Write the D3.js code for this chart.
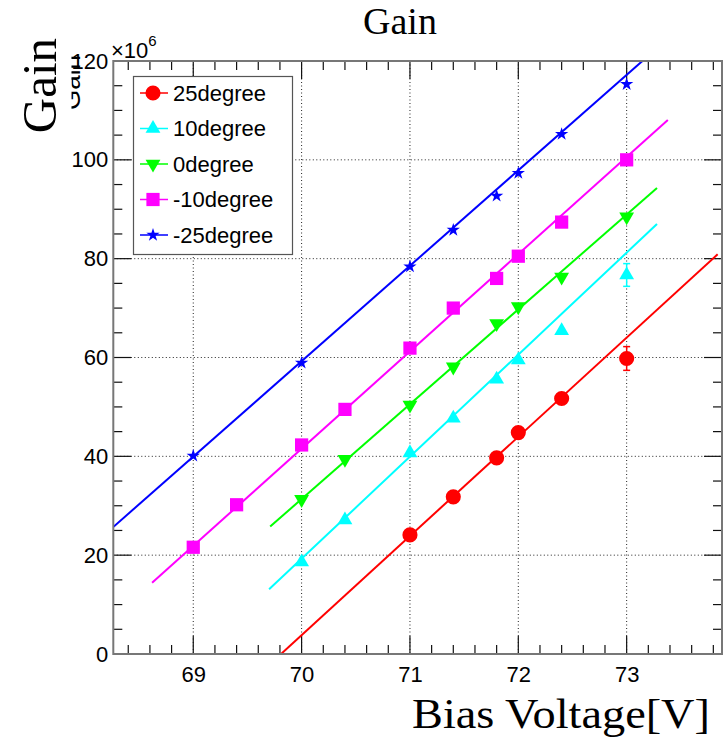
<!DOCTYPE html>
<html><head><meta charset="utf-8">
<script src="https://cdn.jsdelivr.net/npm/d3@7"></script>
<style>body{margin:0;background:#fff}</style>
</head><body>
<svg id="c" width="724" height="738"></svg>
<script>
// Gain (x10^6) versus bias voltage at five temperatures, with linear fits
const seriesNames = ["25degree", "10degree", "0degree", "-10degree", "-25degree"];
const seriesColors = ["#ff0000", "#00ffff", "#00ff00", "#ff00ff", "#0000ff"];
const seriesSymbols = ["circle", "triangle", "triangleDown", "square", "star"];

const volt25 = [71, 71.4, 71.8, 72, 72.4, 73];
const gain25 = [24.1, 31.8, 39.7, 44.8, 51.7, 59.8];
const err25 = [0, 0, 0, 0, 0, 2.4];

const volt10 = [70, 70.4, 71, 71.4, 71.8, 72, 72.4, 73];
const gain10 = [18.6, 27.1, 40.7, 47.7, 55.6, 59.5, 65.4, 76.7];
const err10 = [0, 0, 0, 0, 0, 0, 0, 2.3];

const volt0 = [70, 70.4, 71, 71.4, 71.8, 72, 72.4, 73];
const gain0 = [31.3, 39.4, 50.4, 58.1, 66.9, 70.3, 76.3, 88.5];
const err0 = [0, 0, 0, 0, 0, 0, 0, 0];

const voltM10 = [69, 69.4, 70, 70.4, 71, 71.4, 71.8, 72, 72.4, 73];
const gainM10 = [21.6, 30.2, 42.3, 49.5, 61.9, 70.0, 76.0, 80.5, 87.4, 100.0];
const errM10 = [0, 0, 0, 0, 0, 0, 0, 0, 0, 0];

const voltM25 = [69, 70, 71, 71.4, 71.8, 72, 72.4, 73];
const gainM25 = [40.1, 58.9, 78.4, 85.8, 92.7, 97.3, 105.2, 115.3];
const errM25 = [0, 0, 0, 0, 0, 0, 0, 0];

// linear fits: gain = slope * (V - zeroVolt), drawn over [fitFrom, fitTo]
const fitSlope = [20.07, 20.64, 19.19, 19.68, 19.31];
const fitZeroVolt = [69.81, 69.065, 68.366, 67.888, 66.931];
const fitFrom = [69.7, 69.70, 69.71, 68.62, 68.2];
const fitTo = [73.84, 73.28, 73.28, 73.38, 73.4];

const xMajorTicks = [69, 70, 71, 72, 73];
const yMajorTicks = [0, 20, 40, 60, 80, 100, 120];

const series = [
  {v: volt25, g: gain25, e: err25},
  {v: volt10, g: gain10, e: err10},
  {v: volt0, g: gain0, e: err0},
  {v: voltM10, g: gainM10, e: errM10},
  {v: voltM25, g: gainM25, e: errM25}
].map((s, i) => ({...s, name: seriesNames[i], color: seriesColors[i], symbol: seriesSymbols[i],
  fit: {slope: fitSlope[i], zero: fitZeroVolt[i], from: fitFrom[i], to: fitTo[i]}}));

const L = 113.3, R = 722, T = 61, B = 654;
const x = d3.scaleLinear().domain([68.262, 73.88]).range([L, R]);
const y = d3.scaleLinear().domain([0, 120]).range([B, T]);

const svg = d3.select("#c");
const sans = "'Liberation Sans', Arial, sans-serif";
const serif = "'Liberation Serif', 'Times New Roman', serif";

const defs = svg.append("defs");
defs.append("clipPath").attr("id", "frame")
  .append("rect").attr("x", L).attr("y", T).attr("width", R - L).attr("height", B - T);
defs.append("clipPath").attr("id", "ghost")
  .append("rect").attr("x", 71.5).attr("y", 40).attr("width", 10).attr("height", 80);

// grid
const grid = svg.append("g").attr("stroke", "#222").attr("stroke-width", 1).attr("stroke-dasharray", "1,2.5");
xMajorTicks.forEach(v => grid.append("line").attr("x1", x(v)).attr("x2", x(v)).attr("y1", T).attr("y2", B));
yMajorTicks.filter(v => v > 0 && v < 120).forEach(v => grid.append("line").attr("x1", L).attr("x2", R).attr("y1", y(v)).attr("y2", y(v)));

// axes with ticks on all four sides
const xMinor = d3.range(68.4, 73.81, 0.2).map(v => +v.toFixed(1)).filter(v => !xMajorTicks.includes(v));
const yMinor = d3.range(0, 121, 5).filter(v => !yMajorTicks.includes(v));

const bottomAxis = d3.axisBottom(x).tickValues(xMajorTicks).tickSize(0).tickPadding(12).tickFormat(d3.format("d"));
const gb = svg.append("g").attr("transform", `translate(0,${B})`).call(bottomAxis);
gb.select(".domain").remove();
gb.selectAll("text").attr("font-family", sans).attr("font-size", 22).attr("fill", "#000");

const leftAxis = d3.axisLeft(y).tickValues(yMajorTicks).tickSize(0).tickPadding(5).tickFormat(d3.format("d"));
const gl = svg.append("g").attr("transform", `translate(${L},0)`).call(leftAxis);
gl.select(".domain").remove();
gl.selectAll("text").attr("font-family", sans).attr("font-size", 22).attr("fill", "#000");

const tk = svg.append("g").attr("stroke", "#111").attr("stroke-width", 1.2);
xMajorTicks.forEach(v => {
  tk.append("line").attr("x1", x(v)).attr("x2", x(v)).attr("y1", B).attr("y2", B - 18);
  tk.append("line").attr("x1", x(v)).attr("x2", x(v)).attr("y1", T).attr("y2", T + 18);
});
xMinor.forEach(v => {
  tk.append("line").attr("x1", x(v)).attr("x2", x(v)).attr("y1", B).attr("y2", B - 9);
  tk.append("line").attr("x1", x(v)).attr("x2", x(v)).attr("y1", T).attr("y2", T + 9);
});
yMajorTicks.forEach(v => {
  tk.append("line").attr("x1", L).attr("x2", L + 18).attr("y1", y(v)).attr("y2", y(v));
  tk.append("line").attr("x1", R).attr("x2", R - 18).attr("y1", y(v)).attr("y2", y(v));
});
yMinor.forEach(v => {
  tk.append("line").attr("x1", L).attr("x2", L + 9).attr("y1", y(v)).attr("y2", y(v));
  tk.append("line").attr("x1", R).attr("x2", R - 9).attr("y1", y(v)).attr("y2", y(v));
});

// fit lines
const line = d3.line().x(d => x(d[0])).y(d => y(d[1]));
const fits = svg.append("g").attr("clip-path", "url(#frame)");
series.forEach(s => {
  const f = s.fit;
  const pts = [f.from, f.to].map(v => [v, f.slope * (v - f.zero)]);
  fits.append("path").attr("d", line(pts)).attr("fill", "none")
    .attr("stroke", s.color).attr("stroke-width", 2);
});

// markers
function symbolPath(kind) {
  switch (kind) {
    case "circle": return d3.symbol(d3.symbolCircle, 180)();
    case "triangle": return d3.symbol(d3.symbolTriangle, 95)();
    case "triangleDown": return d3.symbol(d3.symbolTriangle, 95)();
    case "square": return d3.symbol(d3.symbolSquare, 175)();
    case "star": return d3.symbol(d3.symbolStar, 55)();
  }
}
const marks = svg.append("g");
series.forEach(s => {
  const g = marks.append("g");
  s.v.forEach((v, i) => {
    const cx = x(v), cy = y(s.g[i]), e = s.e[i];
    if (e > 0) {
      g.append("line").attr("x1", cx).attr("x2", cx).attr("y1", y(s.g[i] + e)).attr("y2", y(s.g[i] - e))
        .attr("stroke", s.color).attr("stroke-width", 1.5);
      [s.g[i] + e, s.g[i] - e].forEach(t => g.append("line").attr("x1", cx - 3.5).attr("x2", cx + 3.5)
        .attr("y1", y(t)).attr("y2", y(t)).attr("stroke", s.color).attr("stroke-width", 1.5));
    }
    g.append("path").attr("d", symbolPath(s.symbol))
      .attr("transform", `translate(${cx},${cy})` + (s.symbol === "triangleDown" ? " rotate(180)" : ""))
      .attr("fill", s.color);
  });
});

// frame
svg.append("rect").attr("x", L).attr("y", T).attr("width", R - L).attr("height", B - T)
  .attr("fill", "none").attr("stroke", "#777").attr("stroke-width", 2);

// legend
const lg = svg.append("g");
lg.append("rect").attr("x", 133.5).attr("y", 76.5).attr("width", 159).attr("height", 178)
  .attr("fill", "#fff").attr("stroke", "#555").attr("stroke-width", 1.2);
series.forEach((s, i) => {
  const ly = 93 + i * 35.5;
  lg.append("line").attr("x1", 140).attr("x2", 168).attr("y1", ly).attr("y2", ly)
    .attr("stroke", s.color).attr("stroke-width", 1.5);
  lg.append("path").attr("d", symbolPath(s.symbol))
    .attr("transform", `translate(153,${ly})` + (s.symbol === "triangleDown" ? " rotate(180)" : ""))
    .attr("fill", s.color);
  lg.append("text").attr("x", 173).attr("y", ly + 7.5).attr("font-family", sans).attr("font-size", 22)
    .attr("fill", "#000").text(s.name);
});

// exponent label
const ex = svg.append("text").attr("x", 111).attr("y", 58).attr("font-family", sans).attr("font-size", 22).attr("fill", "#000");
ex.append("tspan").text("\u00d710");
ex.append("tspan").attr("dy", -12).attr("font-size", 15).text("6");

// titles
svg.append("text").attr("x", 400).attr("y", 34).attr("text-anchor", "middle")
  .attr("font-family", serif).attr("font-size", 38).attr("fill", "#000").text("Gain");
svg.append("text").attr("transform", "translate(56,38) rotate(-90)").attr("text-anchor", "end")
  .attr("font-family", serif).attr("font-size", 49).attr("fill", "#000").text("Gain");
svg.append("g").attr("clip-path", "url(#ghost)")
  .append("text").attr("transform", "translate(80,110) rotate(-90)")
  .attr("font-family", sans).attr("font-size", 26).attr("fill", "#000").text("Gain");
svg.append("text").attr("x", 710).attr("y", 728).attr("text-anchor", "end")
  .attr("font-family", serif).attr("font-size", 42).attr("fill", "#000")
  .attr("textLength", 298).attr("lengthAdjust", "spacingAndGlyphs").text("Bias Voltage[V]");
</script>
</body></html>
